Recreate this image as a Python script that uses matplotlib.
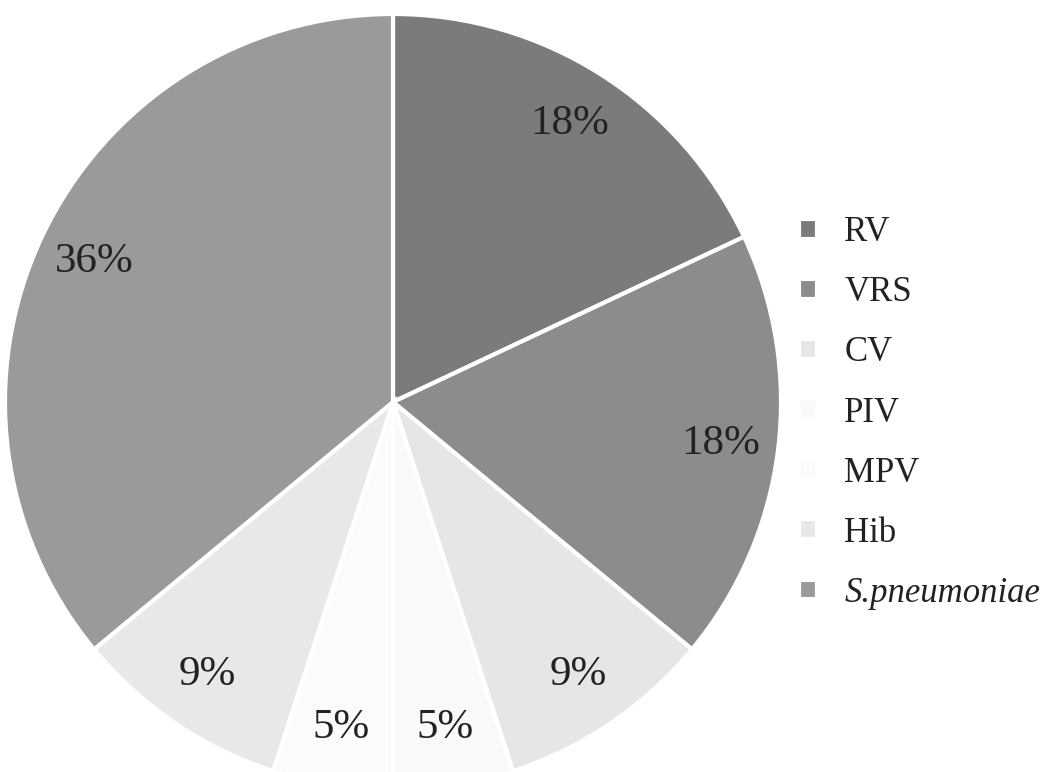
import matplotlib.pyplot as plt

# pathogen shares (%)
labels = ['RV', 'VRS', 'CV', 'PIV', 'MPV', 'Hib', 'S.pneumoniae']
shares = [18, 18, 9, 5, 5, 9, 36]
colors = ['#7b7b7b', '#8c8c8c', '#e6e6e6', '#f9f9f9', '#fbfbfb', '#e8e8e8', '#9a9a9a']

plt.rcParams['font.family'] = ['Liberation Serif', 'DejaVu Serif']

fig = plt.figure(figsize=(10.51, 7.72), dpi=100)
ax = fig.add_axes([5 / 1051, -18 / 772, 776 / 1051, 776 / 772])

wedges, texts, autotexts = ax.pie(
    shares, colors=colors, startangle=90, counterclock=False,
    autopct='%1.0f%%', pctdistance=0.85, radius=1.0,
    wedgeprops=dict(edgecolor='white', linewidth=3),
    textprops=dict(fontsize=31, color='#222222'))
ax.set_xlim(-1, 1)
ax.set_ylim(-1, 1)
ax.set_aspect('equal')

leg = fig.legend(wedges, labels, loc='upper left', bbox_to_anchor=(768 / 1051, 1 - 185 / 772),
                 frameon=False, fontsize=25, handlelength=0.5, handleheight=0.5,
                 handletextpad=0.8, labelspacing=0.78)
for t in leg.get_texts():
    t.set_color('#222222')
leg.get_texts()[-1].set_style('italic')

fig.savefig('out.png', dpi=100)
